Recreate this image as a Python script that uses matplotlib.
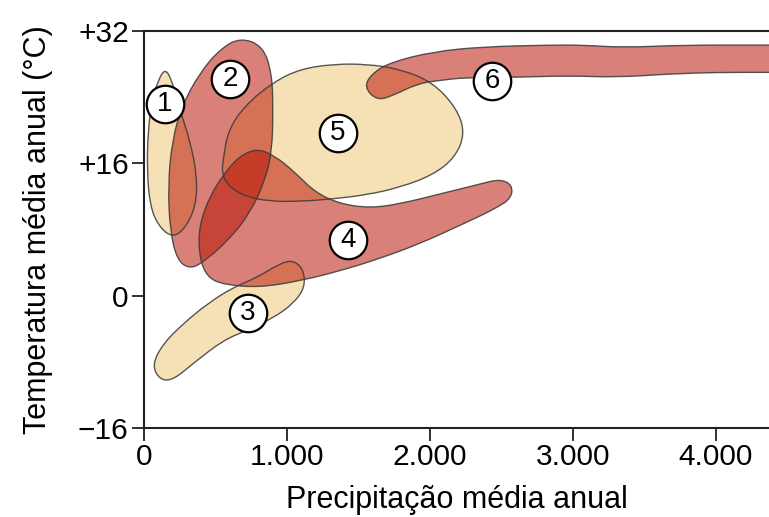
import numpy as np
import matplotlib
matplotlib.use('Agg')
import matplotlib.pyplot as plt
from matplotlib.path import Path
from matplotlib.patches import PathPatch

plt.rcParams['font.family'] = ['Liberation Sans', 'DejaVu Sans']

# blob outlines (precipitation mm, temperature C)
blob1_x = [147, 196, 252, 322, 371, 364, 287, 196, 98, 42, 21, 28, 56, 98]
blob1_y = [27.5, 26.0, 22.4, 18.7, 14.5, 10.9, 8.1, 7.0, 8.5, 10.9, 15.1, 20.0, 23.6, 26.0]

blob2_x = [671, 832, 895, 902, 895, 846, 741, 601, 427, 322, 231, 182, 168, 196, 266, 392, 531]
blob2_y = [31.2, 30.2, 26.8, 22.4, 17.5, 13.9, 10.0, 6.9, 4.2, 3.2, 4.3, 7.9, 13.3, 18.7, 23.0, 27.0, 29.8]

blob3_x = [55, 112, 203, 343, 552, 720, 902, 1042, 1126, 1115, 1042, 951, 790, 622, 441, 273, 133]
blob3_y = [-8.4, -10.2, -10.2, -8.2, -5.4, -4.2, -2.7, -1.0, 1.0, 3.2, 4.3, 3.9, 2.2, 1.0, -1.0, -3.4, -5.8]

blob4_x = [790, 916, 1056, 1196, 1371, 1580, 1790, 2070, 2350, 2490, 2575, 2570, 2455, 2210, 1930,
           1650, 1371, 1091, 811, 566, 441, 385, 385, 462, 566, 671]
blob4_y = [17.8, 16.9, 14.9, 12.5, 11.1, 10.6, 11.1, 12.3, 13.5, 14.1, 13.4, 11.8, 10.5, 8.5, 6.3,
           4.5, 3.0, 1.8, 1.0, 1.3, 2.2, 4.8, 8.5, 12.1, 14.9, 16.9]

blob5_x = [552, 587, 706, 902, 1091, 1322, 1559, 1790, 2021, 2189, 2245, 2175, 2021, 1790, 1559,
           1322, 1091, 881, 706, 587, 545]
blob5_y = [16.3, 20.0, 23.0, 25.8, 27.4, 28.0, 28.0, 27.4, 25.8, 22.6, 19.6, 16.7, 14.6, 13.1, 12.2,
           11.7, 11.4, 11.4, 12.0, 13.3, 14.8]

blob6_x = [1540, 1629, 1741, 1909, 2049, 2259, 2608, 2958, 3308, 3657, 4007, 4308, 4600,
           4600, 4308, 3769, 3350, 3070, 2839, 2371, 2021, 1720, 1590]
blob6_y = [25.2, 23.6, 24.2, 25.6, 26.0, 26.4, 26.4, 26.6, 26.4, 26.8, 27.0, 27.0, 27.0,
           30.3, 30.3, 30.3, 30.0, 30.3, 30.3, 30.1, 29.5, 28.2, 26.8]

label_nums = ['1', '2', '3', '4', '5', '6']
label_x = [147, 601, 727, 1427, 1357, 2434]
label_y = [23.2, 26.2, -2.1, 6.7, 19.7, 26.0]

x_ticks = [0, 1000, 2000, 3000, 4000]
x_ticklabels = ['0', '1.000', '2.000', '3.000', '4.000']
y_ticks = [-16, 0, 16, 32]
y_ticklabels = ['\u221216', '0', '+16', '+32']

tan = '#f6e0b5'
red = (0.72, 0.06, 0.0, 0.53)
edge = '#3a3a3a'


def smooth_path(xs, ys):
    # closed quadratic b-spline through the midpoints of the control polygon
    p = np.column_stack([xs, ys]).astype(float)
    n = len(p)
    mid = (p + np.roll(p, -1, axis=0)) / 2
    verts = [mid[-1]]
    codes = [Path.MOVETO]
    for i in range(n):
        verts += [p[i], mid[i]]
        codes += [Path.CURVE3, Path.CURVE3]
    verts.append(mid[-1])
    codes.append(Path.CLOSEPOLY)
    return Path(verts, codes)


fig = plt.figure(figsize=(7.69, 5.17), dpi=100)
ax = fig.add_axes([0.1873, 0.1721, 0.8127, 0.7679])

tan_blobs = [(blob1_x, blob1_y), (blob3_x, blob3_y), (blob5_x, blob5_y)]
red_blobs = [(blob2_x, blob2_y), (blob4_x, blob4_y), (blob6_x, blob6_y)]

for bx, by in tan_blobs:
    ax.add_patch(PathPatch(smooth_path(bx, by), facecolor=tan, edgecolor='none', zorder=1))
for bx, by in red_blobs:
    ax.add_patch(PathPatch(smooth_path(bx, by), facecolor=red, edgecolor='none', zorder=2))
for bx, by in tan_blobs + red_blobs:
    ax.add_patch(PathPatch(smooth_path(bx, by), facecolor='none', edgecolor=edge,
                           lw=1.0, alpha=0.85, zorder=3))

ax.plot(label_x, label_y, 'o', ms=27, mfc='white', mec='black', mew=1.6, zorder=4)
for s, lx, ly in zip(label_nums, label_x, label_y):
    ax.text(lx, ly, s, ha='center', va='center', fontsize=20, zorder=5)

ax.set_xlim(0, 4371)
ax.set_ylim(-16, 32)
ax.set_xticks(x_ticks)
ax.set_xticklabels(x_ticklabels)
ax.set_yticks(y_ticks)
ax.set_yticklabels(y_ticklabels)
ax.tick_params(direction='out', length=9, width=1.3, labelsize=21.5, pad=2, color='#222222')
ax.spines['right'].set_visible(False)
for s in ['left', 'top', 'bottom']:
    ax.spines[s].set_linewidth(1.5)
    ax.spines[s].set_color('#222222')

ax.set_xlabel('Precipitação média anual', fontsize=22, labelpad=10)
ax.set_ylabel('Temperatura média anual (°C)', fontsize=22, labelpad=18)

fig.savefig('out.png', dpi=100)
